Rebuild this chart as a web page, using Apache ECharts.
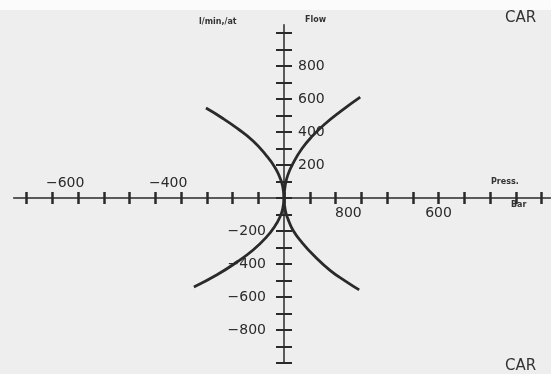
<!DOCTYPE html>
<html>
<head>
<meta charset="utf-8">
<script src="https://cdn.jsdelivr.net/npm/echarts@6/dist/echarts.min.js"></script>
<style>
  html, body { margin: 0; padding: 0; background: #eeeeee; }
  #chart { width: 551px; height: 374px; }
</style>
</head>
<body>
<div id="chart"></div>
<script>
// branches of the curve: pressure (x) and flow (y)
const upRightP = [0, 5, 15, 35, 70, 110, 160, 220, 296];
const upRightQ = [0, 80, 140, 210, 300, 375, 450, 525, 611];
const upLeftP = [0, -5, -15, -35, -70, -120, -180, -240, -303];
const upLeftQ = [0, 70, 120, 185, 260, 345, 420, 485, 545];
const lowLeftP = [0, -5, -15, -35, -70, -120, -180, -260, -350];
const lowLeftQ = [0, -65, -112, -170, -240, -315, -385, -465, -539];
const lowRightP = [0, 5, 15, 35, 70, 120, 180, 240, 292];
const lowRightQ = [0, -75, -125, -195, -270, -355, -440, -505, -557];

// tick labels (the scanned figure labels the x axis oddly)
const xAboveAt = [-850, -450];
const xAboveText = ['\u2212600', '\u2212400'];
const xBelowAt = [250, 600];
const xBelowText = ['800', '600'];
const yRightAt = [800, 600, 400, 200];
const yRightText = ['800', '600', '400', '200'];
const yLeftAt = [-200, -400, -600, -800];
const yLeftText = ['\u2212200', '\u2212400', '\u2212600', '\u2212800'];

// pixel scale shared by every grid
const X0 = 284, Y0 = 198, SX = 0.2575, SY = 0.165;
const XMIN = -1050, XMAX = 1035, YMIN = -1000, YMAX = 1050;
function box(xmin, xmax, ymin, ymax) {
    return {
        left: X0 + xmin * SX, width: (xmax - xmin) * SX,
        top: Y0 - ymax * SY, height: (ymax - ymin) * SY,
        outerBoundsMode: 'none', containLabel: false
    };
}
const ink = '#2a2a2a';
const font = 'DejaVu Sans';

function lookup(at, text) {
    return function (v) {
        const i = at.indexOf(Math.round(v));
        return i < 0 ? '' : text[i];
    };
}
function pts(p, q) { return p.map((v, i) => [v, q[i]]); }

function tickAxis(gi, inside, isX) {
    return {
        type: 'value', gridIndex: gi, min: -1000, max: 1000, interval: 100,
        axisLine: { show: false, onZero: true },
        axisTick: { show: true, inside: inside, length: isX ? 6 : 8, lineStyle: { color: ink, width: isX ? 2.5 : 2 } },
        axisLabel: { show: false }, splitLine: { show: false }
    };
}
function hiddenAxis(gi, min, max) {
    return { type: 'value', gridIndex: gi, min: min, max: max, show: false };
}
function labelAxis(gi, min, max, position, margin, at, text) {
    return {
        type: 'value', gridIndex: gi, min: min, max: max, interval: 50, position: position,
        axisLine: { show: false, onZero: false }, axisTick: { show: false }, splitLine: { show: false },
        axisLabel: { show: true, margin: margin, color: ink, fontFamily: font, fontSize: 14,
            formatter: lookup(at, text), showMinLabel: false, showMaxLabel: false }
    };
}

const chart = echarts.init(document.getElementById('chart'));
chart.setOption({
    backgroundColor: '#eeeeee',
    animation: false,
    grid: [
        box(-1000, 1000, -1000, 1000),  // ticks below / left
        box(-1000, 1000, -1000, 1000),  // ticks above / right
        box(XMIN, XMAX, YMIN, YMAX),    // axis lines
        box(XMIN, XMAX, 0, YMAX),       // x labels below the axis
        box(XMIN, XMAX, YMIN, 0),       // x labels above the axis
        box(-1000, 0, YMIN, YMAX),      // y labels right of the axis
        box(0, 1000, YMIN, YMAX)        // y labels left of the axis
    ],
    xAxis: [
        tickAxis(0, false, true),
        tickAxis(1, true, true),
        {
            type: 'value', gridIndex: 2, min: XMIN, max: XMAX,
            axisLine: { show: true, onZero: true, lineStyle: { color: ink, width: 1.5 } },
            axisTick: { show: false }, splitLine: { show: false }, axisLabel: { show: false }
        },
        labelAxis(3, XMIN, XMAX, 'bottom', 8, xBelowAt, xBelowText),
        labelAxis(4, XMIN, XMAX, 'top', 8, xAboveAt, xAboveText),
        hiddenAxis(5, -1000, 0),
        hiddenAxis(6, 0, 1000)
    ],
    yAxis: [
        tickAxis(0, false, false),
        tickAxis(1, true, false),
        {
            type: 'value', gridIndex: 2, min: YMIN, max: YMAX,
            axisLine: { show: true, onZero: true, lineStyle: { color: ink, width: 1.5 } },
            axisTick: { show: false }, splitLine: { show: false }, axisLabel: { show: false }
        },
        hiddenAxis(3, 0, YMAX),
        hiddenAxis(4, YMIN, 0),
        labelAxis(5, YMIN, YMAX, 'right', 14, yRightAt, yRightText),
        labelAxis(6, YMIN, YMAX, 'left', 18, yLeftAt, yLeftText)
    ],
    series: [
        [upRightP, upRightQ], [upLeftP, upLeftQ], [lowLeftP, lowLeftQ], [lowRightP, lowRightQ]
    ].map(b => ({
        type: 'line', xAxisIndex: 0, yAxisIndex: 0, smooth: true, showSymbol: false,
        lineStyle: { color: ink, width: 2.8 }, data: pts(b[0], b[1])
    })),
    graphic: [
        { type: 'rect', z: -10, shape: { x: 0, y: 0, width: 551, height: 10 }, style: { fill: '#fbfbfb' } },
        { type: 'text', left: 505, top: 11, style: { text: 'CAR', font: '15px "DejaVu Sans"', fill: '#333' } },
        { type: 'text', left: 505, top: 359, style: { text: 'CAR', font: '15px "DejaVu Sans"', fill: '#333' } },
        { type: 'text', left: 305, top: 16, style: { text: 'Flow', font: 'bold 8px "DejaVu Sans"', fill: '#333' } },
        { type: 'text', left: 199, top: 18, style: { text: 'l/min,/at', font: 'bold 8px "DejaVu Sans"', fill: '#333' } },
        { type: 'text', left: 491, top: 178, style: { text: 'Press.', font: 'bold 8px "DejaVu Sans"', fill: '#333' } },
        { type: 'text', left: 511, top: 201, style: { text: 'Bar', font: 'bold 8px "DejaVu Sans"', fill: '#333' } }
    ]
});
</script>
</body>
</html>
